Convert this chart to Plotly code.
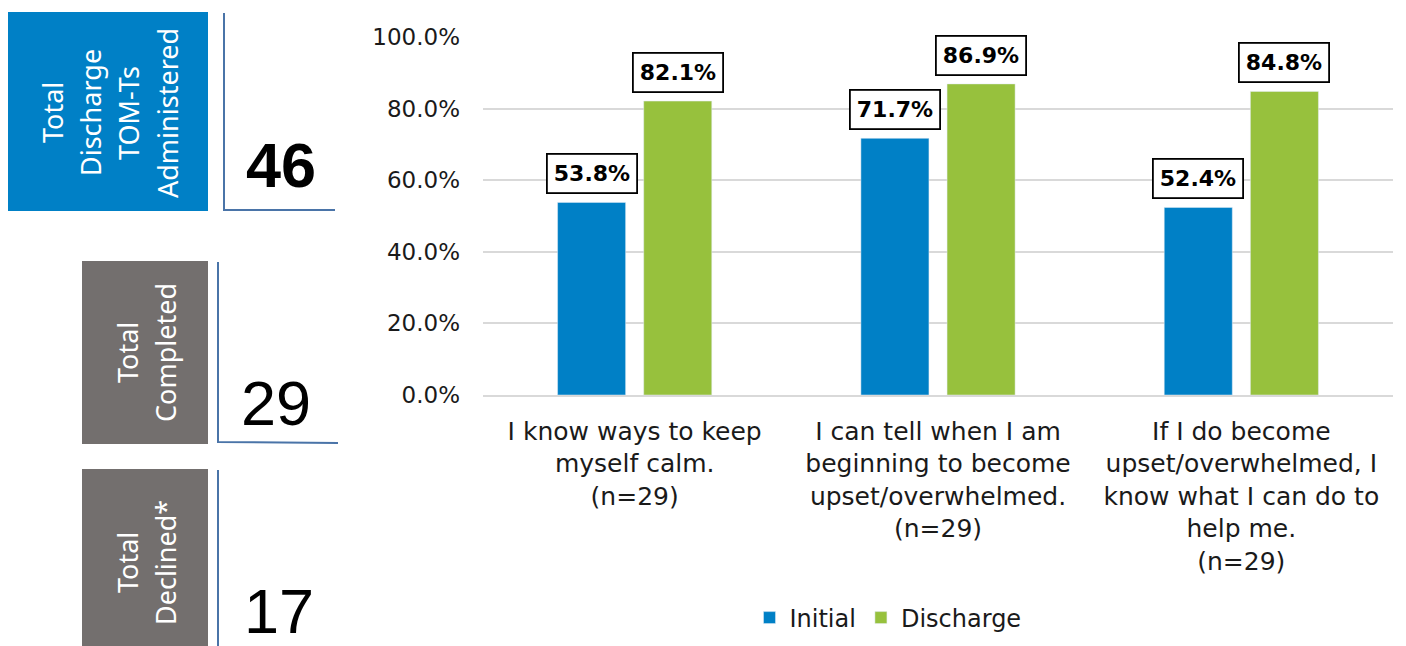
import plotly.graph_objects as go

# Survey items (x categories) and the share answering positively
categories = [
    "I know ways to keep<br>myself calm.<br>(n=29)",
    "I can tell when I am<br>beginning to become<br>upset/overwhelmed.<br>(n=29)",
    "If I do become<br>upset/overwhelmed, I<br>know what I can do to<br>help me.<br>(n=29)",
]
initial = [53.8, 71.7, 52.4]
discharge = [82.1, 86.9, 84.8]
series_names = ["Initial", "Discharge"]
y_ticks = [0, 20, 40, 60, 80, 100]

# Summary counts shown in the side panel
summary_titles = [
    ["Total", "Discharge", "TOM-Ts", "Administered"],
    ["Total", "Completed"],
    ["Total", "Declined*"],
]
summary_counts = ["46", "29", "17"]

W, H = 1406, 646
BLUE = "#0080C6"
GREEN = "#97C13D"
GREY_BOX = "#736F6E"
RULE = "#4A74A8"
FONT = "DejaVu Sans"
PANEL_FONT = "Noto Sans"
COUNT_FONT = "Liberation Sans"


def px(x):
    return x / W


def py(y):
    return 1 - y / H


cat_idx = list(range(len(categories)))

fig = go.Figure()
fig.add_bar(x=cat_idx, y=initial, name=series_names[0], marker_color=BLUE)
fig.add_bar(x=cat_idx, y=discharge, name=series_names[1], marker_color=GREEN)

annotations = []
# Boxed value labels above each bar
for vals, shift in ((initial, -43), (discharge, 43)):
    for i, v in enumerate(vals):
        annotations.append(dict(
            x=i, y=v, xref="x", yref="y", xshift=shift, yshift=8,
            yanchor="bottom", showarrow=False,
            text=f"<b>{v:.1f}%</b>",
            font=dict(family=FONT, size=22, color="black"),
            bgcolor="white", bordercolor="black", borderwidth=1.8, borderpad=6,
        ))

# Side panel: coloured boxes with rotated titles
boxes = [
    dict(x0=8, x1=208, y0=12, y1=211, color=BLUE, cx=[52, 90, 128, 167], cy=113),
    dict(x0=82, x1=208, y0=261, y1=444, color=GREY_BOX, cx=[127, 165], cy=353),
    dict(x0=82, x1=208, y0=469, y1=660, color=GREY_BOX, cx=[127, 165], cy=563),
]
shapes = []
for b, lines in zip(boxes, summary_titles):
    shapes.append(dict(type="rect", xref="paper", yref="paper",
                       x0=px(b["x0"]), x1=px(b["x1"]), y0=py(b["y1"]), y1=py(b["y0"]),
                       fillcolor=b["color"], line=dict(width=0), layer="below"))
    for line, cx in zip(lines, b["cx"]):
        annotations.append(dict(
            x=px(cx), y=py(b["cy"]), xref="paper", yref="paper",
            text=line, textangle=-90, showarrow=False,
            xanchor="center", yanchor="middle",
            font=dict(family=PANEL_FONT, size=27, color="white"),
        ))

# Corner rules beside each count
rules = [
    [(224, 13), (224, 210), (335, 210)],
    [(218, 262), (218, 442), (338, 443)],
    [(218, 470), (218, 660)],
]
for pts in rules:
    path = "M " + " L ".join(f"{px(x)},{py(y)}" for x, y in pts)
    shapes.append(dict(type="path", xref="paper", yref="paper", path=path,
                       line=dict(color=RULE, width=2)))

count_pos = [(281, 165, True), (276, 403, False), (279, 611, False)]
for txt, (cx, cy, bold) in zip(summary_counts, count_pos):
    annotations.append(dict(
        x=px(cx), y=py(cy), xref="paper", yref="paper",
        text=f"<b>{txt}</b>" if bold else txt, showarrow=False,
        xanchor="center", yanchor="middle",
        font=dict(family=COUNT_FONT, size=63, color="black"),
    ))

fig.update_layout(
    width=W, height=H,
    margin=dict(l=0, r=0, t=0, b=0, autoexpand=False),
    paper_bgcolor="white", plot_bgcolor="white",
    barmode="group", bargap=0.432, bargroupgap=0.21,
    font=dict(family=FONT, size=21, color="#1a1a1a"),
    showlegend=True,
    legend=dict(orientation="h", x=px(888), y=py(618), xanchor="center", yanchor="middle",
                font=dict(family=FONT, size=24, color="#1a1a1a"),
                itemwidth=30, tracegroupgap=0),
    annotations=annotations,
    shapes=shapes,
    xaxis=dict(domain=[px(483), px(1393)], tickmode="array", tickvals=cat_idx,
               ticktext=categories, range=[-0.5, 2.5], automargin=False,
               tickfont=dict(size=25),
               showline=True, linecolor="#d9d9d9", linewidth=1.5,
               ticks="", ticklabelstandoff=13, showgrid=False, zeroline=False),
    yaxis=dict(domain=[py(395), py(37)], range=[0, 100], tickvals=y_ticks,
               ticktext=[f"{t:.1f}%" for t in y_ticks], automargin=False,
               tickfont=dict(size=23),
               showgrid=True, gridcolor="#d9d9d9", gridwidth=1.5,
               zeroline=False, showline=False, ticks="", ticklabelstandoff=22),
)

fig.write_html("out.html")
